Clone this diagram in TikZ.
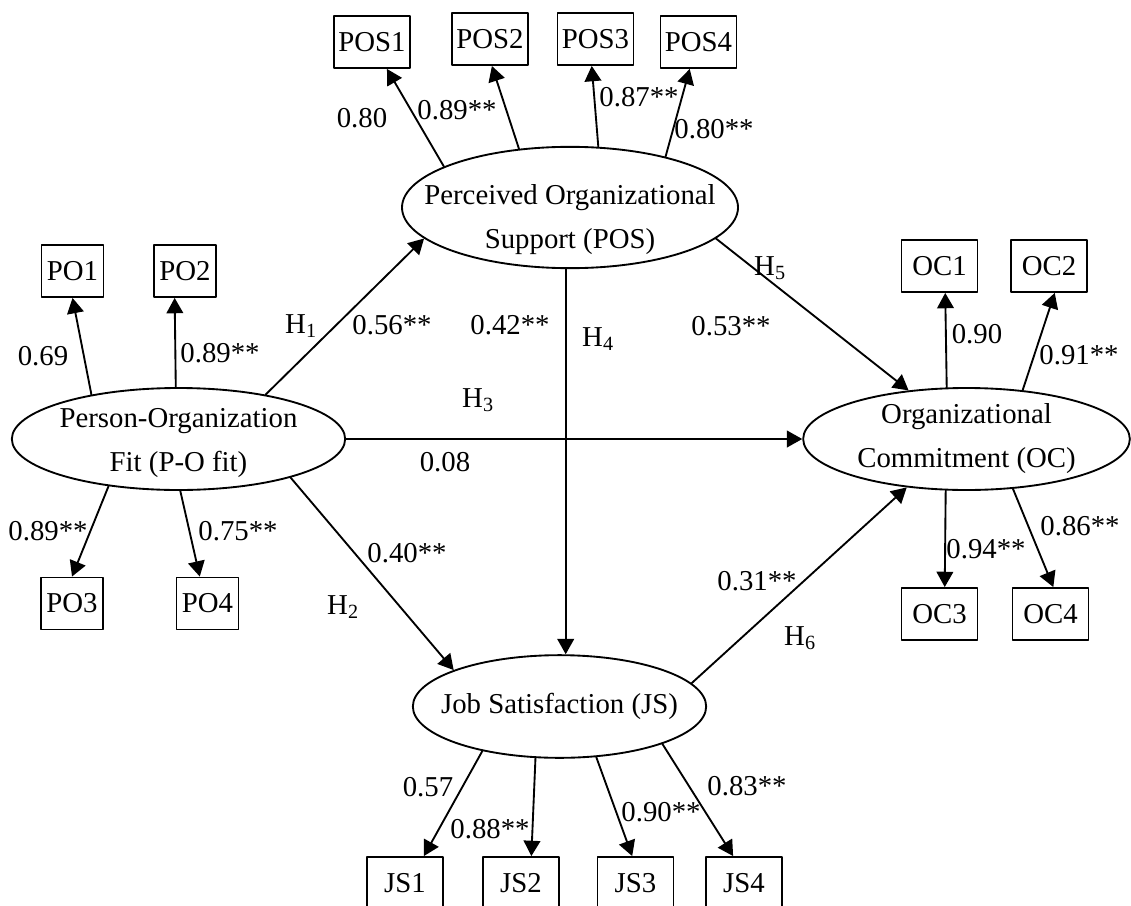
\documentclass[tikz,border=0pt]{standalone}
\usepackage{fontspec}
\setmainfont{Liberation Serif}
\usetikzlibrary{arrows.meta,shapes.geometric}
\begin{document}
\begin{tikzpicture}[x=.75pt,y=-.75pt,>={Triangle[length=11.5pt,width=12.5pt]},
  line cap=round,line join=round,
  every node/.style={font=\fontsize{21.6}{33}\selectfont},
  latent/.style={ellipse,draw,line width=1.4pt,inner sep=0pt},
  obs/.style={draw,line width=1.4pt,minimum width=57pt,minimum height=39pt,inner sep=0pt},
  link/.style={->,line width=1.4pt}]
  \useasboundingbox (0,0) rectangle (1131,906);
  \clip (0,0) rectangle (1131,906);
  % latent variables
  \node[latent,minimum width=252pt,minimum height=91pt,
    label={[align=center,yshift=-9pt]center:Perceived Organizational\\Support (POS)}] (pos) at (570,207.5) {};
  \node[latent,minimum width=250pt,minimum height=76.5pt,
    label={[align=center,yshift=-3pt]center:Person-Organization\\Fit (P-O fit)}] (pof) at (178.5,439) {};
  \node[latent,minimum width=245pt,minimum height=76.5pt,
    label={[align=center]center:Organizational\\Commitment (OC)}] (oc) at (966.5,439) {};
  \node[latent,minimum width=220pt,minimum height=77pt,
    label=center:Job Satisfaction (JS)] (js) at (559.5,706.5) {};
  % indicators
  \node[obs] (pos1) at (372,42) {POS1};
  \node[obs] (pos2) at (490,39) {POS2};
  \node[obs] (pos3) at (595.5,39) {POS3};
  \node[obs] (pos4) at (698.5,42) {POS4};
  \node[obs,minimum width=46.5pt] (po1) at (72.5,271) {PO1};
  \node[obs,minimum width=46.5pt] (po2) at (185,271) {PO2};
  \node[obs,minimum width=46.5pt] (po3) at (72,603.5) {PO3};
  \node[obs,minimum width=46.5pt] (po4) at (207.5,603.5) {PO4};
  \node[obs] (oc1) at (939.5,266) {OC1};
  \node[obs] (oc2) at (1049,266) {OC2};
  \node[obs] (oc3) at (939.5,614) {OC3};
  \node[obs] (oc4) at (1050.5,614) {OC4};
  \node[obs] (js1) at (405,883) {JS1};
  \node[obs] (js2) at (521,883) {JS2};
  \node[obs] (js3) at (635.5,883) {JS3};
  \node[obs] (js4) at (744,883) {JS4};
  % loadings
  \draw[link] (pos.162) -- (pos1.299);
  \draw[link] (pos.131) -- (pos2.274);
  \draw[link] (pos.65) -- (pos3.262);
  \draw[link] (pos.28) -- (pos4.252);
  \draw[link] (pof.153) -- (po1.south);
  \draw[link] (pof.93) -- (po2.249);
  \draw[link] (pof.214) -- (po3.north);
  \draw[link] (pof.272) -- (po4.106);
  \draw[link] (oc.111) -- (oc1.282);
  \draw[link] (oc.41) -- (oc2.282);
  \draw[link] (oc.248) -- (oc3.79);
  \draw[link] (oc.313) -- (oc4.84);
  \draw[link] (js.210) -- (js1.55);
  \draw[link] (js.245) -- (js2.69);
  \draw[link] (js.306) -- (js3.97);
  \draw[link] (js.340) -- (js4.112);
  % structural paths
  \draw[link] (pof.27) -- (pos.192);
  \draw[link] (pof.341) -- (js.161);
  \draw[link] (pof.east) -- (oc.west);
  \draw[link] (pos.266) -- (pos.266 |- js.north);
  \draw[link] (pos.348) -- (oc.140);
  \draw[link] (js.10) -- (oc.219);
  % coefficients
  \node (lpos1) at (362,118) {0.80};
  \node (lpos2) at (457,110) {0.89**};
  \node (lpos3) at (639,97) {0.87**};
  \node (lpos4) at (714,129) {0.80**};
  \node (lpo1) at (43,356) {0.69};
  \node (lpo2) at (220,353) {0.89**};
  \node (lpo3) at (48,531) {0.89**};
  \node (lpo4) at (238,531) {0.75**};
  \node (loc1) at (977,334) {0.90};
  \node (loc2) at (1079,355) {0.91**};
  \node (loc3) at (986,549) {0.94**};
  \node (loc4) at (1080,526) {0.86**};
  \node (ljs1) at (428,787) {0.57};
  \node (ljs2) at (490,829) {0.88**};
  \node (ljs3) at (661,812) {0.90**};
  \node (ljs4) at (747,786) {0.83**};
  \node (lh1) at (392,325) {0.56**};
  \node (lh2) at (407,553) {0.40**};
  \node (lh3) at (445,462) {0.08};
  \node (lh4) at (510,325) {0.42**};
  \node (lh5) at (731,326) {0.53**};
  \node (lh6) at (757,581) {0.31**};
  % hypotheses
  \node (h1) at (301,326) {H\textsubscript{1}};
  \node (h2) at (343,607) {H\textsubscript{2}};
  \node (h3) at (478,400) {H\textsubscript{3}};
  \node (h4) at (598,339) {H\textsubscript{4}};
  \node (h5) at (770,268) {H\textsubscript{5}};
  \node (h6) at (800,638) {H\textsubscript{6}};
\end{tikzpicture}
\end{document}
